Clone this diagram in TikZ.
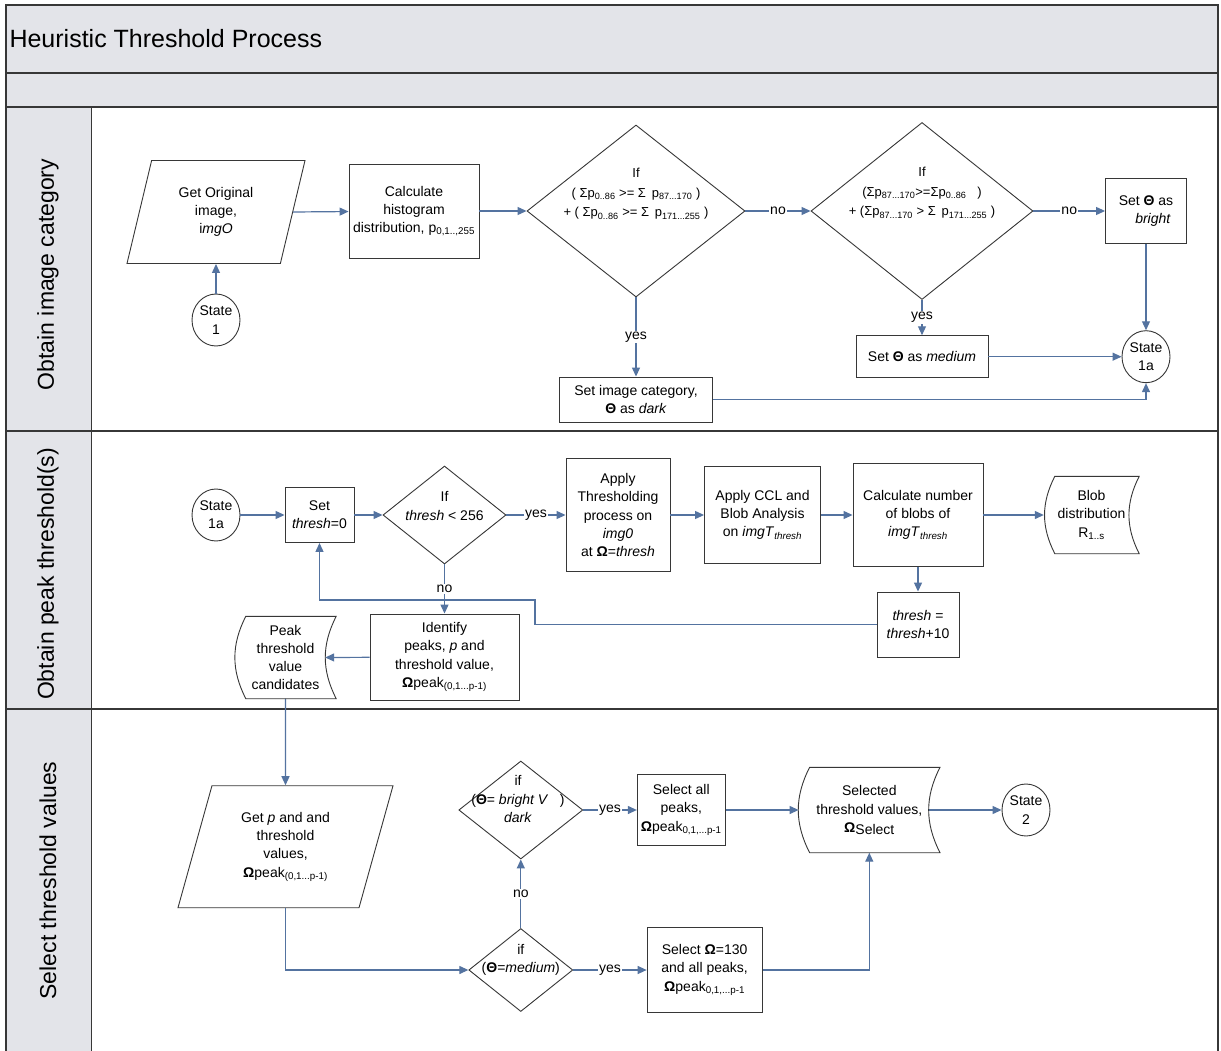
\documentclass[tikz,border=0pt]{standalone}
\usepackage{fontspec}
\setmainfont{Liberation Sans}
\usepackage{tikz}
\usetikzlibrary{shapes.geometric,arrows.meta,calc}

\definecolor{lanegray}{RGB}{227,228,233}
\definecolor{flowblue}{RGB}{84,115,160}
\definecolor{edgegray}{RGB}{55,55,55}

\newcommand{\catTheta}{\textbf{Θ}}
\newcommand{\thrOmega}{\textbf{Ω}}

\begin{document}
\begin{tikzpicture}
  [
  x=1pt, y=-1pt,
  every node/.style = {font=\fontsize{14}{18.3}\selectfont},
  laneline/.style = {draw=edgegray, line width=1.3pt},
  proc/.style = {draw=edgegray, line width=0.9pt, rectangle, align=center, inner sep=2pt},
  io/.style = {draw=edgegray, line width=0.9pt, trapezium, trapezium left angle=64.5,
    trapezium right angle=115.5, trapezium stretches body, align=center, inner sep=1pt},
  dec/.style = {draw=edgegray, line width=0.9pt, diamond, inner sep=0pt},
  dtext/.style = {align=center, inner sep=0pt},
  bigdtext/.style = {align=center, inner sep=0pt, font=\fontsize{13}{19.5}\selectfont},
  stnode/.style = {draw=edgegray, line width=0.9pt, ellipse, minimum width=48,
    minimum height=52, inner sep=0pt, align=center},
  store/.style = {align=center, inner sep=0pt},
  flow/.style = {draw=flowblue, line width=1.2pt, -{Triangle[length=9pt,width=8pt]}},
  lbl/.style = {fill=white, inner sep=1pt},
  lane/.style = {rotate=90, font=\fontsize{23}{26}\selectfont}
  ]

  \useasboundingbox (0,0) rectangle (1221,1051);
  \fill[white] (0,0) rectangle (1221,1051);

  % swimlanes
  \fill[lanegray] (6,5) rectangle (1218,107);
  \fill[lanegray] (6,107) rectangle (91.5,1051);
  \draw[laneline] (6,1051) -- (6,5) -- (1218,5) -- (1218,1051);
  \draw[laneline] (6,73) -- (1218,73);
  \foreach \y in {107,431,709}
    \draw[laneline] (6,\y) -- (1218,\y);
  \draw[laneline] (91.5,107) -- (91.5,1051);

  \node[anchor=west, font=\fontsize{25}{29}\selectfont] (title) at (6,39) {Heuristic Threshold Process};
  \node[lane] (lane1) at (48,274.5) {Obtain image category};
  \node[lane] (lane2) at (48,574) {Obtain peak threshold(s)};
  \node[lane] (lane3) at (48,880.5) {Select threshold values};

  % obtain image category
  \node[io, minimum width=178, minimum height=103] (get1) at (216,212) {Get Original\\image,\\i\textit{mgO}};
  \node[stnode] (s1) at (216,320) {State\\1};
  \node[proc, minimum width=130, minimum height=94] (hist) at (414,211) {Calculate\\histogram\\distribution, p\textsubscript{0,1..,255}};
  \node[dec, minimum width=218, minimum height=172] (d1) at (636,211) {};
  \node[bigdtext] (d1t) at (636,194) {If\\( Σp\textsubscript{0..86} >= Σ\, p\textsubscript{87...170} )\\+ ( Σp\textsubscript{0..86} >= Σ\, p\textsubscript{171...255} )};
  \node[proc, minimum width=153, minimum height=45] (dark) at (636,399.5) {Set image category,\\\catTheta{} as \textit{dark}};
  \node[dec, minimum width=222, minimum height=177] (d2) at (922,211) {};
  \node[bigdtext] (d2t) at (922,193) {If\\(Σp\textsubscript{87...170}>=Σp\textsubscript{0..86} \ \ )\\+ (Σp\textsubscript{87...170} > Σ\, p\textsubscript{171...255} )};
  \node[proc, minimum width=81, minimum height=65] (bright) at (1146,211) {Set \catTheta{} as\\\quad\textit{bright}};
  \node[proc, minimum width=132, minimum height=42] (med) at (922,356.7) {Set \catTheta{} as \textit{medium}};
  \node[stnode] (s1a) at (1146,356.7) {State\\1a};

  \draw[flow] (s1) -- (get1);
  \draw[flow] (get1.east) -- (hist);
  \draw[flow] (hist) -- (d1);
  \draw[flow] (d1) -- node[lbl] {no} (d2);
  \draw[flow] (d1) -- node[lbl] {yes} (dark);
  \draw[flow] (d2) -- node[lbl] {no} (bright);
  \draw[flow] (d2) -- node[lbl] {yes} (med);
  \draw[flow] (bright) -- (s1a);
  \draw[flow] (med) -- (s1a);
  \draw[flow] (dark) -| (s1a);

  % obtain peak thresholds
  \node[stnode] (s1b) at (216,515) {State\\1a};
  \node[proc, minimum width=69, minimum height=55] (set0) at (319.5,515) {Set\\\textit{thresh}=0};
  \node[dec, minimum width=123, minimum height=98] (d3) at (444.5,515) {};
  \node[dtext] (d3t) at (444.5,506) {If\\\textit{thresh} < 256};
  \node[proc, minimum width=104, minimum height=113] (apply) at (618,515) {Apply\\Thresholding\\process on\\\textit{img0}\\at \thrOmega=\textit{thresh}};
  \node[proc, minimum width=116, minimum height=97] (ccl) at (762.5,515) {Apply CCL and\\Blob Analysis\\on \textit{imgT}\textsubscript{\textit{thresh}}};
  \node[proc, minimum width=130, minimum height=103] (count) at (918,515) {Calculate number\\of blobs of\\\textit{imgT}\textsubscript{\textit{thresh}}};
  \node[store, minimum width=95, minimum height=77] (blob) at (1091.5,515) {Blob\\distribution\\R\textsubscript{1..s}};
  \node[proc, minimum width=82, minimum height=65] (tinc) at (918,624.5) {\textit{thresh} =\\\textit{thresh}+10};
  \node[proc, minimum width=149, minimum height=86] (ident) at (444.5,657) {Identify\\peaks, \textit{p} and\\threshold value,\\\thrOmega peak\textsubscript{(0,1...p-1)}};
  \node[store, minimum width=101, minimum height=82] (cand) at (285.5,657.5) {Peak\\threshold\\value\\candidates};
  \coordinate (back) at (535,600);

  \draw[flow] (s1b) -- (set0);
  \draw[flow] (set0) -- (d3);
  \draw[flow] (d3) -- node[lbl] {yes} (apply);
  \draw[flow] (apply) -- (ccl);
  \draw[flow] (ccl) -- (count);
  \draw[flow] (count) -- (blob);
  \draw[flow] (count) -- (tinc);
  \draw[flow] (tinc) -| (back) -| (set0);
  \draw[flow] (d3) -- node[lbl] {no} (ident);
  \draw[flow] (ident) -- ($(cand.east)+(-11,0)$);

  % select threshold values
  \node[io, minimum width=215, minimum height=122] (getp) at (285.5,846.7) {Get \textit{p} and and\\threshold\\values,\\\thrOmega peak\textsubscript{(0,1...p-1)}};
  \node[dec, minimum width=104, minimum height=83] (dmed) at (520.8,970) {};
  \node[dtext] (dmedt) at (520.8,960) {if\\(\catTheta=\textit{medium})};
  \node[dec, minimum width=124, minimum height=98] (dbr) at (520.8,810) {};
  \node[dtext] (dbrt) at (518,799) {if\\(\catTheta= \textit{bright V} \ \ )\\\textit{dark}\quad};
  \node[proc, minimum width=88, minimum height=71] (sall) at (681.3,810) {Select all\\peaks,\\\thrOmega peak\textsubscript{0,1,...p-1}};
  \node[proc, minimum width=115, minimum height=85] (s130) at (704.6,970) {Select \thrOmega=130\\and all peaks,\\\thrOmega peak\textsubscript{0,1,...p-1}};
  \node[store, minimum width=141, minimum height=85] (sel) at (869.3,810) {Selected\\threshold values,\\\thrOmega\raisebox{-2pt}{Select}};
  \node[stnode] (s2) at (1026,810) {State\\2};

  \draw[flow] (cand) -- (getp);
  \draw[flow] (getp) |- (dmed);
  \draw[flow] (dmed) -- node[lbl] {yes} (s130);
  \draw[flow] (dmed) -- node[lbl] {no} (dbr);
  \draw[flow] (dbr) -- node[lbl] {yes} (sall);
  \draw[flow] (sall) -- (sel);
  \draw[flow] (s130) -| (sel);
  \draw[flow] ($(sel.east)+(-11,0)$) -- (s2);

  \foreach \s in {blob,cand,sel}
    \draw[draw=edgegray, line width=0.9pt] ($(\s.north west)+(11,0)$) to[bend right=27] ($(\s.south west)+(11,0)$)
      -- (\s.south east) to[bend left=27] (\s.north east) -- cycle;

\end{tikzpicture}
\end{document}
